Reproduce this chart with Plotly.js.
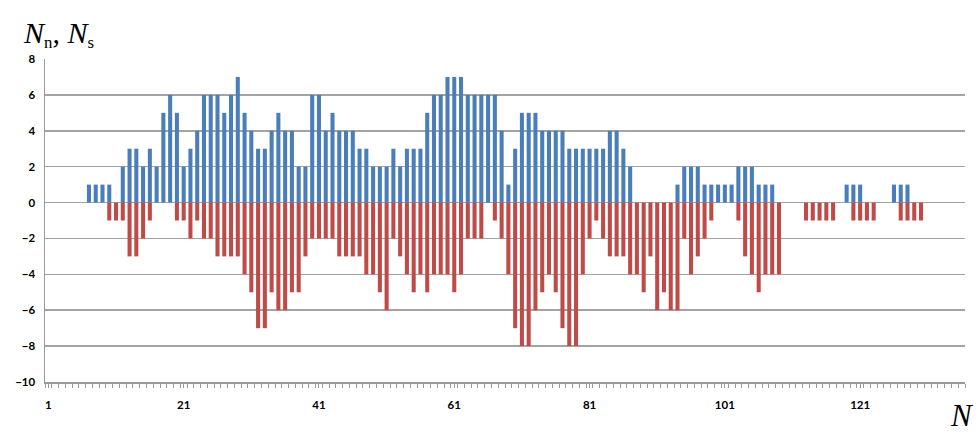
<!DOCTYPE html>
<html>
<head>
<meta charset="utf-8">
<script src="https://cdn.plot.ly/plotly-3.0.1.min.js"></script>
<style>html,body{margin:0;padding:0;background:#fff;}#chart{width:976px;height:434px;}</style>
</head>
<body>
<div id="chart"></div>
<script>
// Category index (1..136)
const categories = Array.from({length: 136}, (_, i) => i + 1);

// Blue series (positive values), by category 1..136
const seriesN = [
  0,0,0,0,0,0,1,1,1,1,          // 1-10
  0,2,3,3,2,3,2,5,6,5,          // 11-20
  2,3,4,6,6,6,5,6,7,5,          // 21-30
  4,3,3,4,5,4,4,2,2,6,          // 31-40
  6,4,5,4,4,4,3,3,2,2,          // 41-50
  2,3,2,3,3,3,5,6,6,7,          // 51-60
  7,7,6,6,6,6,6,4,1,3,          // 61-70
  5,5,5,4,4,4,4,3,3,3,          // 71-80
  3,3,3,4,4,3,2,0,0,0,          // 81-90
  0,0,0,1,2,2,2,1,1,1,          // 91-100
  1,1,2,2,2,1,1,1,0,0,          // 101-110
  0,0,0,0,0,0,0,0,1,1,          // 111-120
  1,0,0,0,0,1,1,1,0,0,          // 121-130
  0,0,0,0,0,0                   // 131-136
];

// Red series (negative values), by category 1..136
const seriesS = [
  0,0,0,0,0,0,0,0,0,-1,         // 1-10
  -1,-1,-3,-3,-2,-1,0,0,0,-1,   // 11-20
  -1,-2,-1,-2,-2,-3,-3,-3,-3,-4,// 21-30
  -5,-7,-7,-5,-6,-6,-5,-5,-3,-2,// 31-40
  -2,-2,-2,-3,-3,-3,-3,-4,-4,-5,// 41-50
  -6,-2,-3,-4,-5,-4,-5,-4,-4,-4,// 51-60
  -5,-4,-2,-2,-2,0,-1,-2,-4,-7, // 61-70
  -8,-8,-6,-5,-4,-5,-7,-8,-8,-4,// 71-80
  -2,-1,-2,-3,-3,-3,-4,-4,-5,-3,// 81-90
  -6,-5,-6,-6,-2,-4,-3,-2,-1,0, // 91-100
  0,0,-1,-3,-4,-5,-4,-4,-4,0,   // 101-110
  0,0,-1,-1,-1,-1,-1,0,0,-1,    // 111-120
  -1,-1,-1,0,0,0,-1,-1,-1,-1,   // 121-130
  0,0,0,0,0,0                   // 131-136
];

const xTickVals = [1, 21, 41, 61, 81, 101, 121];
const xTickText = ['1', '21', '41', '61', '81', '101', '121'];
const yTickVals = [-10, -8, -6, -4, -2, 0, 2, 4, 6, 8];

const traces = [
  {type: 'bar', x: categories, y: seriesN, marker: {color: '#4a7ebb'}, hoverinfo: 'x+y'},
  {type: 'bar', x: categories, y: seriesS, marker: {color: '#be4b48'}, hoverinfo: 'x+y'}
];

const tickFont = {family: 'Lato, "Liberation Sans", sans-serif', size: 11.5, color: '#000', weight: 'bold'};

const layout = {
  width: 976, height: 434,
  margin: {l: 45, r: 11, t: 59, b: 52, pad: 0},
  paper_bgcolor: '#fff', plot_bgcolor: '#fff',
  showlegend: false,
  barmode: 'relative',
  bargap: 0.4,
  xaxis: {
    type: 'linear',
    range: [0.5, 136.5],
    tickmode: 'array', tickvals: xTickVals, ticktext: xTickText,
    ticks: 'outside', ticklen: 4, tickwidth: 1, tickcolor: '#999',
    minor: {dtick: 1, tick0: 0.5, ticks: 'outside', ticklen: 4, tickwidth: 1, tickcolor: '#999', showgrid: false},
    ticklabelstandoff: 8,
    showline: true, linecolor: '#999', linewidth: 1.5,
    showgrid: false, zeroline: false,
    tickfont: tickFont,
    fixedrange: true
  },
  yaxis: {
    range: [-10, 8],
    tickmode: 'array', tickvals: yTickVals,
    ticks: '', ticklabelstandoff: 6,
    showline: true, linecolor: '#999', linewidth: 1.5,
    showgrid: true, gridcolor: '#a3a3a3', gridwidth: 1.6,
    zeroline: false,
    tickfont: tickFont,
    fixedrange: true
  },
  annotations: [
    {xref: 'paper', yref: 'paper', x: -0.026, y: 1.0, xanchor: 'left', yanchor: 'bottom', yshift: 5,
     text: '<i>N</i><span style="font-size:24px"><sub>n</sub></span>, <i>N</i><span style="font-size:24px"><sub>s</sub></span>', showarrow: false,
     font: {family: '"Liberation Serif", "Times New Roman", serif', size: 30, color: '#000'}},
    {xref: 'paper', yref: 'paper', x: 0.981, y: 0, xanchor: 'left', yanchor: 'top', yshift: -14,
     text: '<i>N</i>', showarrow: false,
     font: {family: '"Liberation Serif", "Times New Roman", serif', size: 31, color: '#000'}}
  ]
};

Plotly.newPlot('chart', traces, layout, {displayModeBar: false, staticPlot: true});
</script>
</body>
</html>
